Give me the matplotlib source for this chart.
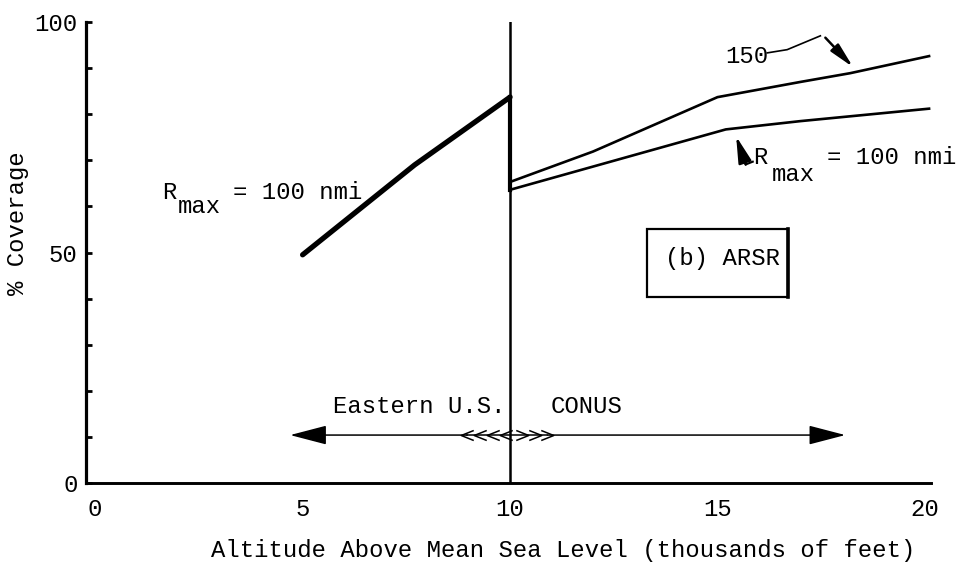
import matplotlib
matplotlib.use("Agg")
import matplotlib.pyplot as plt
from matplotlib.path import Path
from matplotlib.patches import Rectangle

# Eastern U.S. curve (R_max = 100 nmi), then drop at 10 kft
alt_east = [5.0, 7.7, 10.0]
cov_east = [49.5, 69.0, 83.7]
drop_x = [10.0, 10.0]
drop_y = [83.7, 63.6]

# CONUS curves
alt_150 = [10.0, 12.0, 15.0, 17.0, 18.2, 20.1]
cov_150 = [65.3, 71.9, 83.7, 87.0, 88.9, 92.6]
alt_100 = [10.0, 15.2, 17.0, 20.1]
cov_100 = [63.6, 76.7, 78.5, 81.2]

divider_x = [10.0, 10.0]
divider_y = [0.0, 100.0]

x_ticks = [0, 5, 10, 15, 20]
y_major = [0, 50, 100]
y_minor = [10, 20, 30, 40, 60, 70, 80, 90]

# region arrows along the bottom
region_y = 10.4
east_tip = 4.7
conus_tip = 18.08
east_chevrons = [8.97, 9.28, 9.59, 9.91]
conus_chevrons = [10.29, 10.61, 10.90]

# leader for the "150" label
leader_x = [16.2, 16.68, 17.48]
leader_y = [93.3, 94.0, 97.0]

FONT = ["Liberation Mono", "DejaVu Sans Mono"]
plt.rcParams["font.family"] = FONT
FS = 17.2

fig = plt.figure(figsize=(9.56, 5.64), dpi=100)
ax = fig.add_axes([0.090, 0.1436, 0.884, 0.8174])
ax.set_xlim(-0.22, 20.15)
ax.set_ylim(0, 100)

for side in ("top", "right"):
    ax.spines[side].set_visible(False)
ax.spines["left"].set_linewidth(2.3)
ax.spines["bottom"].set_linewidth(2.1)

ax.set_xticks(x_ticks)
ax.set_xticklabels([str(v) for v in x_ticks])
ax.tick_params(axis="x", length=0, pad=11, labelsize=FS)
ax.set_yticks(y_major)
ax.set_yticklabels([str(v) for v in y_major])
ax.set_yticks(y_minor, minor=True)
ax.tick_params(axis="y", which="both", direction="in", length=4, width=2,
               pad=6, labelsize=FS)

ax.set_xlabel("Altitude Above Mean Sea Level (thousands of feet)", fontsize=FS)
ax.xaxis.set_label_coords(0.565, -0.122)
ax.set_ylabel("% Coverage", fontsize=FS)
ax.yaxis.set_label_coords(-0.068, 0.564)

# curves
ax.plot(divider_x, divider_y, color="black", lw=1.8)
ax.plot(alt_east, cov_east, color="black", lw=3.8, solid_capstyle="round")
ax.plot(drop_x, drop_y, color="black", lw=3.0)
ax.plot(alt_150, cov_150, color="black", lw=1.9)
ax.plot(alt_100, cov_100, color="black", lw=1.9)

# labels on the curves
ax.text(1.62, 63.1, "R", fontsize=FS, ha="left", va="center")
ax.text(1.98, 59.9, "max", fontsize=FS, ha="left", va="center")
ax.text(3.33, 63.1, "= 100 nmi", fontsize=FS, ha="left", va="center")

ax.text(15.86, 70.7, "R", fontsize=FS, ha="left", va="center")
ax.text(16.32, 67.0, "max", fontsize=FS, ha="left", va="center")
ax.text(17.65, 70.7, "= 100 nmi", fontsize=FS, ha="left", va="center")
ax.plot([15.68, 15.85], [69.1, 69.7], color="black", lw=1.5)
ax.annotate("", xy=(15.45, 75.2), xytext=(15.68, 69.1),
            arrowprops=dict(arrowstyle="-|>,head_length=1.6,head_width=0.4",
                            mutation_scale=10, lw=1.8, color="black",
                            shrinkA=0, shrinkB=0))

ax.text(15.19, 92.5, "150", fontsize=FS, ha="left", va="center")
ax.plot(leader_x, leader_y, color="black", lw=1.2)
ax.annotate("", xy=(18.27, 90.2), xytext=(17.6, 96.6),
            arrowprops=dict(arrowstyle="-|>,head_length=1.5,head_width=0.32",
                            mutation_scale=10, lw=1.8, color="black",
                            shrinkA=0, shrinkB=0))

# (b) ARSR box
ax.add_patch(Rectangle((13.31, 40.3), 3.38, 14.8, fill=False,
                       edgecolor="black", lw=1.6))
ax.plot([16.69, 16.69], [40.3, 55.1], color="black", lw=2.6)
ax.text(13.74, 48.8, "(b) ARSR", fontsize=FS, ha="left", va="center")

# region arrows
arrow_kw = dict(arrowstyle="-|>,head_length=2.3,head_width=0.6",
                mutation_scale=10, lw=1.1, color="black",
                shrinkA=0, shrinkB=0)
ax.annotate("", xy=(east_tip, region_y), xytext=(east_chevrons[0], region_y),
            arrowprops=arrow_kw)
ax.annotate("", xy=(conus_tip, region_y), xytext=(conus_chevrons[-1], region_y),
            arrowprops=arrow_kw)
ax.plot([east_chevrons[0], conus_chevrons[-1]], [region_y, region_y],
        color="black", lw=1.1)

left_chev = Path([(1, 0.8), (-1, 0), (1, -0.8)],
                 [Path.MOVETO, Path.LINETO, Path.LINETO])
right_chev = Path([(-1, 0.8), (1, 0), (-1, -0.8)],
                  [Path.MOVETO, Path.LINETO, Path.LINETO])
ax.plot(east_chevrons, [region_y] * len(east_chevrons), ls="none",
        marker=left_chev, markersize=9, markerfacecolor="none",
        markeredgecolor="black", markeredgewidth=1.1)
ax.plot(conus_chevrons, [region_y] * len(conus_chevrons), ls="none",
        marker=right_chev, markersize=9, markerfacecolor="none",
        markeredgecolor="black", markeredgewidth=1.1)

ax.text(5.74, 16.5, "Eastern U.S.", fontsize=FS, ha="left", va="center")
ax.text(10.97, 16.5, "CONUS", fontsize=FS, ha="left", va="center")

fig.savefig("out.png", dpi=100)
